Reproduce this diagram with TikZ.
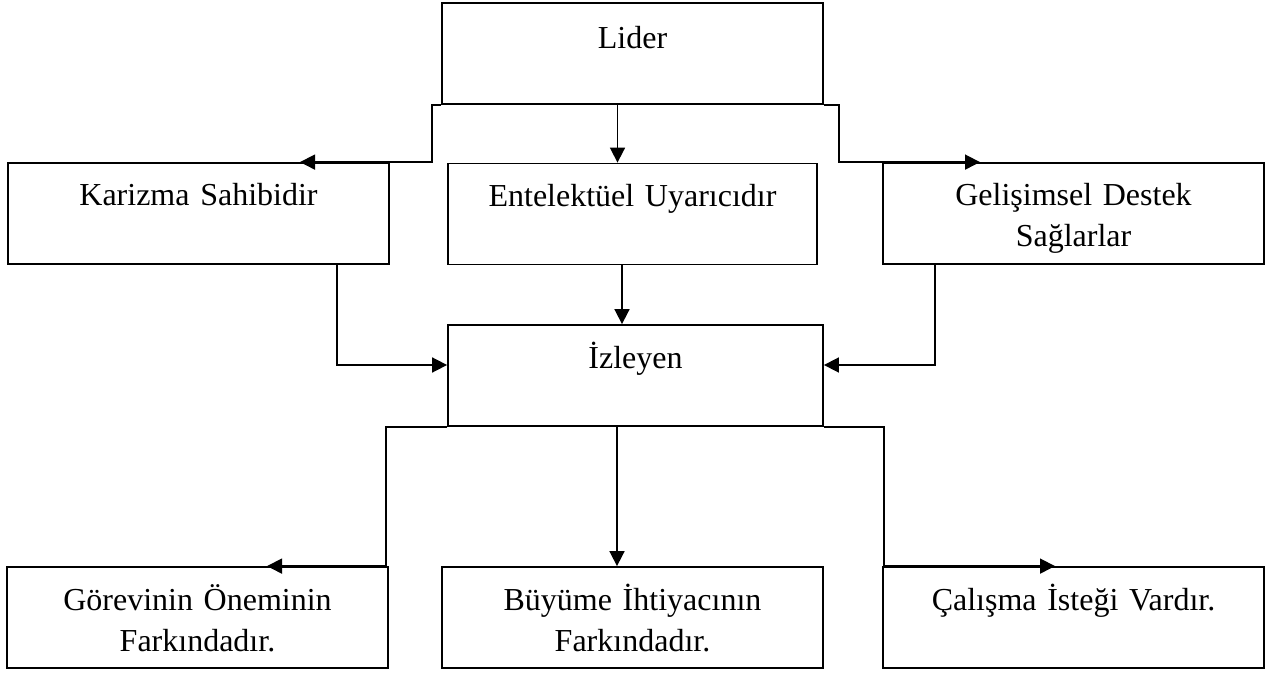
\documentclass[tikz,border=0pt]{standalone}
\usepackage{fontspec}
\setmainfont{Liberation Serif}
\usepackage{tikz}
\usetikzlibrary{arrows.meta,calc}

\begin{document}
\begin{tikzpicture}[x=0.5pt,y=-0.5pt,
    every node/.style={font=\fontsize{16}{20.5}\selectfont},
    box/.style={draw, line width=0.9pt, inner sep=0pt, align=center,
                text width=190.5pt, text height=21.5pt, text depth=29pt},
    arr/.style={line width=0.85pt, -{Triangle[length=7.5pt,width=7.5pt]}}]
  \useasboundingbox (0,0) rectangle (1278,673);

  % top
  \node[box, text height=23pt, text depth=27.5pt] (lider) at (632.5,53.5) {Lider};

  % middle row
  \node[box] (kariz) at (198.5,213.5) {Karizma Sahibidir};
  \node[box, text width=184.5pt] (entel) at (632.5,214) {Entelektüel Uyarıcıdır};
  \node[box] (gelis) at (1073.5,213.5) {Gelişimsel Destek\\Sağlarlar};

  % follower
  \node[box, text width=187.5pt] (izl) at (635.5,375.5) {İzleyen};

  % bottom row
  \node[box] (gorev) at (197.5,617.5) {Görevinin Öneminin\\Farkındadır.};
  \node[box] (buyum) at (632.5,617.5) {Büyüme İhtiyacının\\Farkındadır.};
  \node[box] (calis) at (1073.5,617.5) {Çalışma İsteği Vardır.};

  % lider -> row 2
  \draw[arr] (lider.south west) -- ++(-9,0) |- ($(kariz.north)+(101.5,0)$);
  \draw[arr] ($(lider.south)+(-15,0)$) -- ($(entel.north)+(-15,0)$);
  \draw[arr] (lider.south east) -- ++(15,0) |- ($(gelis.north)+(-93.5,0)$);

  % row 2 -> izleyen
  \draw[arr] ($(kariz.south)+(138.5,0)$) |- ($(izl.west)+(0,-10.5)$);
  \draw[arr] ($(entel.south)+(-10.5,0)$) -- ($(izl.north)+(-13.5,0)$);
  \draw[arr] ($(gelis.south)+(-138.5,0)$) |- ($(izl.east)+(0,-10.5)$);

  % izleyen -> bottom row
  \draw[arr] (izl.south west) -- ++(-61,0) |- ($(gorev.north)+(69.5,0)$);
  \draw[arr] ($(izl.south)+(-18.5,0)$) -- ($(buyum.north)+(-15.5,0)$);
  \draw[arr] (izl.south east) -- ++(60,0) |- ($(calis.north)+(-18.5,0)$);
\end{tikzpicture}
\end{document}
